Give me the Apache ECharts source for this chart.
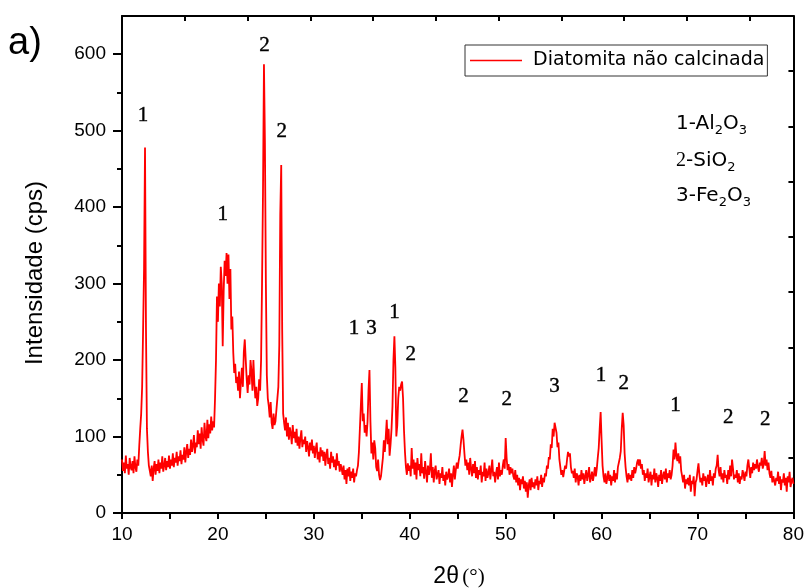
<!DOCTYPE html>
<html>
<head>
<meta charset="utf-8">
<script src="https://cdn.jsdelivr.net/npm/echarts@6/dist/echarts.min.js"></script>
<style>
html,body{margin:0;padding:0;background:#fff;}
#chart{width:807px;height:588px;}
</style>
</head>
<body>
<div id="chart"></div>
<script>
// ---- data ----
const seriesName = 'Diatomita não calcinada';
const angleStart = 10;   // 2θ of first sample (°)
const angleStep = 0.1;   // sample spacing (°)
const intensity = [
70,55,66,52,75,58,64,50,72,60,
56,68,52,74,60,54,70,62,88,110,
130,165,240,320,478,240,110,80,62,55,
48,62,42,58,68,50,64,55,70,52,
66,58,74,54,62,72,56,68,60,75,
58,70,62,78,60,72,66,80,62,74,
68,82,64,76,70,86,66,80,90,72,
84,76,96,80,88,102,78,92,86,108,
90,104,84,112,96,88,118,100,94,122,
98,116,104,126,108,120,112,150,200,283,
250,300,270,322,300,218,290,330,310,340,
300,338,280,319,240,257,210,183,195,170,
178,160,185,150,172,190,165,210,227,200,
175,157,180,168,200,185,160,200,170,150,
165,140,150,175,160,200,300,420,587,485,
300,180,150,140,125,145,118,110,130,115,
120,135,150,165,220,390,455,240,130,118,
108,125,100,118,96,112,104,90,115,98,
106,92,110,88,100,84,98,108,86,96,
90,100,80,94,86,74,92,82,96,78,
88,72,84,92,70,80,66,86,74,82,
68,80,62,76,84,64,72,58,80,66,
74,60,70,56,78,62,68,54,64,58,
50,62,44,56,38,58,48,60,42,54,
46,58,40,52,48,56,62,80,110,140,
170,120,130,105,115,100,120,160,187,120,
78,92,70,95,85,60,55,70,50,43,
48,60,72,95,80,100,122,90,110,75,
90,110,140,200,231,190,100,115,150,165,
160,168,172,150,108,80,60,50,65,55,
62,48,85,58,70,50,66,44,72,56,
64,48,78,52,60,45,68,54,40,62,
50,58,78,46,60,40,55,62,44,50,
56,38,52,46,60,42,50,36,54,44,
48,58,40,52,34,50,62,44,56,66,
58,68,75,88,100,109,96,78,62,70,
56,66,50,72,58,48,64,52,68,46,
60,44,56,50,62,40,54,48,66,42,
58,46,52,62,44,56,70,48,54,40,
52,60,44,66,48,56,50,62,70,58,
98,72,56,64,50,60,52,58,48,44,
56,40,50,36,46,30,44,38,48,32,
42,28,40,20,36,44,30,46,34,40,
32,44,36,48,30,42,38,50,34,46,
40,52,48,62,58,73,70,90,85,110,
100,118,120,105,86,92,70,60,50,56,
47,55,62,58,70,80,74,78,60,52,
55,46,58,40,52,48,36,50,42,56,
44,52,38,48,56,42,50,60,40,46,
54,42,50,60,48,58,72,85,110,132,
95,62,48,40,52,38,46,55,42,50,
36,48,42,56,40,52,44,60,58,72,
81,110,131,115,78,60,48,40,52,44,
50,42,56,46,60,52,58,66,70,62,
70,58,64,50,56,42,52,46,58,40,
48,54,36,50,44,58,40,52,46,34,
50,42,56,38,48,54,44,58,40,52,
46,56,44,50,62,83,70,92,75,68,
78,65,74,55,48,40,50,32,44,38,
46,36,50,28,42,38,48,22,40,44,
55,65,50,40,46,36,52,42,48,34,
44,50,38,56,42,48,36,52,46,58,
62,76,56,48,60,44,52,40,56,46,
50,38,56,44,62,48,70,58,44,50,
46,56,40,52,38,48,44,56,50,42,
54,48,62,70,58,46,60,52,66,56,
64,58,70,60,54,66,62,72,58,64,
81,62,70,56,66,52,46,55,40,48,
50,36,46,42,54,38,48,30,44,40,
52,36,46,28,48,40,54,34,42,46,
38
];
// peak annotations
const annX    = [12.2, 24.85, 26.65, 20.5, 34.2, 36.0, 38.4, 40.1, 45.6, 50.1, 55.1, 59.95, 62.3, 67.7, 73.2, 77.05];
const annY    = [520, 612, 499, 391, 241, 241, 262, 207, 152, 148, 165, 180, 170, 140, 125, 122];
const annText = ['1','2','2','1','1','3','1','2','2','2','3','1','2','1','2','2'];
// axis labels
const xLabels = [10,20,30,40,50,60,70,80];
const yLabels = [0,100,200,300,400,500,600];

// ---- build ----
const lineData = intensity.map((v, i) => [+(angleStart + i * angleStep).toFixed(2), v]);
const annData = annX.map((x, i) => ({ value: [x, annY[i]], name: annText[i] }));

const chart = echarts.init(document.getElementById('chart'), null, { renderer: 'canvas' });
const axisLine = { show: true, onZero: false, lineStyle: { color: '#000', width: 2 } };
const sans = 'Liberation Sans';

chart.setOption({
  animation: false,
  backgroundColor: '#fff',
  grid: { left: 122, right: 10, top: 16, bottom: 75, containLabel: false },
  legend: {
    data: [{ name: seriesName, icon: 'rect' }],
    left: 465, top: 45,
    orient: 'horizontal',
    padding: [6, 3, 6, 5],
    borderColor: '#333', borderWidth: 1,
    itemWidth: 52, itemHeight: 1.5,
    textStyle: { fontFamily: 'DejaVu Sans', fontSize: 19, color: '#000', padding: [0, 0, 0, 6] }
  },
  xAxis: [
    { type: 'value', min: 10, max: 80, interval: 5, position: 'bottom',
      axisLine: axisLine,
      axisTick: { show: true, length: 6, lineStyle: { color: '#000', width: 2 } },
      axisLabel: { formatter: v => xLabels.indexOf(v) >= 0 ? String(v) : '',
        fontFamily: sans, fontSize: 19, color: '#000', margin: 12 },
      splitLine: { show: false } },
    { type: 'value', min: 0, max: 10.7, interval: 1, position: 'top',
      axisLine: axisLine,
      axisTick: { show: true, inside: true, length: 5, lineStyle: { color: '#000', width: 2 } },
      axisLabel: { show: false }, splitLine: { show: false } }
  ],
  yAxis: [
    { type: 'value', min: 0, max: 650, interval: 50, position: 'left',
      axisLine: axisLine,
      axisTick: { show: true, length: 5, lineStyle: { color: '#000', width: 2 } },
      axisLabel: { formatter: v => yLabels.indexOf(v) >= 0 ? String(v) : '',
        showMaxLabel: false, fontFamily: sans, fontSize: 19, color: '#000', margin: 16 },
      splitLine: { show: false } },
    { type: 'value', min: 0, max: 9, interval: 1, position: 'right',
      axisLine: axisLine,
      axisTick: { show: true, inside: true, length: 5, lineStyle: { color: '#000', width: 2 } },
      axisLabel: { show: false }, splitLine: { show: false } },
    { type: 'value', min: 0, max: 650, interval: 100, position: 'left',
      axisLine: { show: false },
      axisTick: { show: true, length: 9, customValues: yLabels, lineStyle: { color: '#000', width: 2 } },
      axisLabel: { show: false }, splitLine: { show: false } }
  ],
  series: [
    { name: seriesName, type: 'line', xAxisIndex: 0, yAxisIndex: 0,
      data: lineData, symbol: 'none', showSymbol: false, sampling: 'none',
      lineStyle: { color: '#ff0000', width: 1.8 }, itemStyle: { color: '#ff0000' } },
    { name: 'labels', type: 'scatter', xAxisIndex: 0, yAxisIndex: 0,
      data: annData, symbolSize: 2, itemStyle: { color: 'rgba(0,0,0,0)' },
      label: { show: true, position: 'inside', formatter: '{b}', opacity: 1,
        fontFamily: 'Liberation Serif', fontSize: 21, color: '#000',
        textBorderColor: '#000', textBorderWidth: 0.4 },
      silent: true, z: 5 }
  ],
  graphic: [
    { type: 'text', x: 8, y: 44,
      style: { text: 'a)', font: '38px "Liberation Sans"', fill: '#000', verticalAlign: 'middle', align: 'left' } },
    { type: 'text', x: 35, y: 273, rotation: Math.PI / 2,
      style: { text: 'Intensidade (cps)', font: '24px "Liberation Sans"', fill: '#000', align: 'center', verticalAlign: 'middle' } },
    { type: 'text', x: 459, y: 577,
      style: { text: '{a|2θ} {b|(°)}', align: 'center', verticalAlign: 'middle', fill: '#000',
        rich: { a: { fontFamily: sans, fontSize: 23, fill: '#000' },
                b: { fontFamily: 'Liberation Serif', fontSize: 21, fill: '#000' } } } },
    { type: 'text', x: 676, y: 124,
      style: { text: '{m|1-Al}{s|2}{m|O}{s|3}', align: 'left', verticalAlign: 'middle',
        rich: { m: { fontFamily: 'DejaVu Sans', fontSize: 20, lineHeight: 26, verticalAlign: 'middle', fill: '#000' },
                s: { fontFamily: 'DejaVu Sans', fontSize: 13, lineHeight: 16, verticalAlign: 'bottom', fill: '#000' } } } },
    { type: 'text', x: 676, y: 161,
      style: { text: '{n|2}{m|-SiO}{s|2}', align: 'left', verticalAlign: 'middle',
        rich: { n: { fontFamily: 'Liberation Serif', fontSize: 20, lineHeight: 26, verticalAlign: 'middle', fill: '#000' },
                m: { fontFamily: 'DejaVu Sans', fontSize: 20, lineHeight: 26, verticalAlign: 'middle', fill: '#000' },
                s: { fontFamily: 'DejaVu Sans', fontSize: 13, lineHeight: 16, verticalAlign: 'bottom', fill: '#000' } } } },
    { type: 'text', x: 676, y: 196,
      style: { text: '{m|3-Fe}{s|2}{m|O}{s|3}', align: 'left', verticalAlign: 'middle',
        rich: { m: { fontFamily: 'DejaVu Sans', fontSize: 20, lineHeight: 26, verticalAlign: 'middle', fill: '#000' },
                s: { fontFamily: 'DejaVu Sans', fontSize: 13, lineHeight: 16, verticalAlign: 'bottom', fill: '#000' } } } }
  ]
});
</script>
</body>
</html>
